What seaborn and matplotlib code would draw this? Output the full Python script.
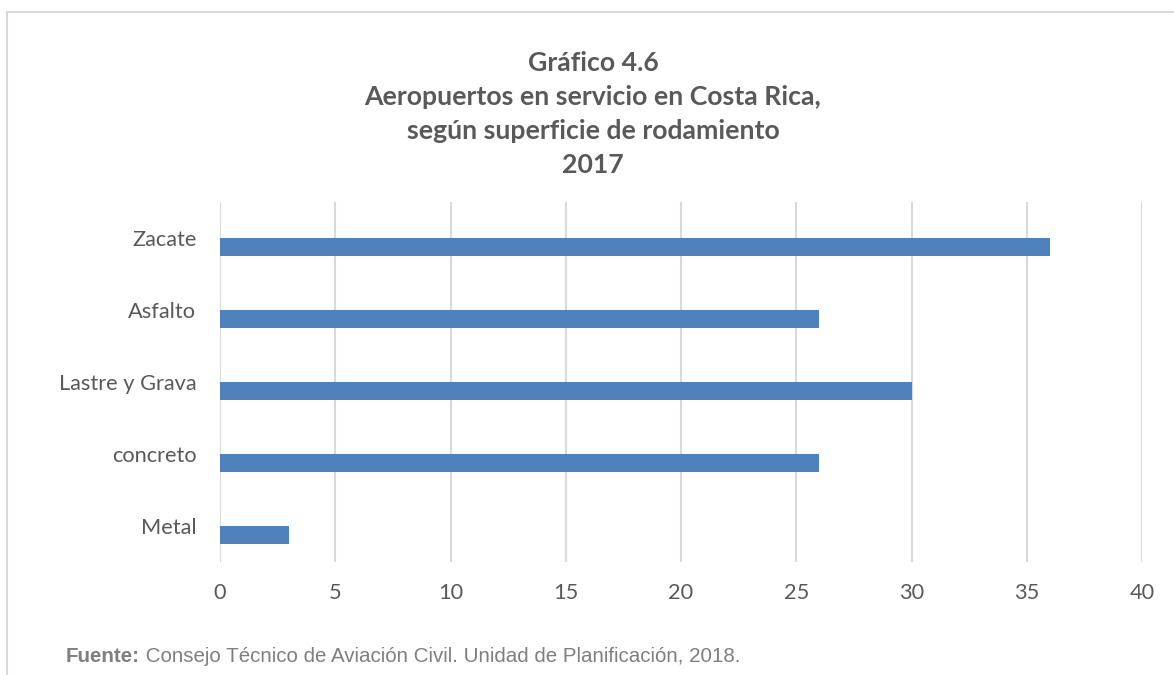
import matplotlib
matplotlib.use("Agg")
import matplotlib.pyplot as plt
import seaborn as sns
import pandas as pd
from matplotlib.lines import Line2D

categories = ["Zacate", "Asfalto", "Lastre y Grava", "concreto", "Metal"]
values = [36, 26, 30, 26, 3]
x_ticks = [0, 5, 10, 15, 20, 25, 30, 35, 40]

title_lines = ["Gráfico 4.6", "Aeropuertos en servicio en Costa Rica,",
               "según superficie de rodamiento", "2017"]
source_bold = "Fuente:"
source_text = " Consejo Técnico de Aviación Civil. Unidad de Planificación, 2018."

sns.set_theme(style="white")
plt.rcParams["font.family"] = ["Lato", "DejaVu Sans"]

# Excel clustered bar: an empty placeholder series occupies the upper slot
df = pd.DataFrame({
    "cat": categories * 2,
    "val": [0] * len(values) + values,
    "serie": ["vacía"] * len(values) + ["Aeropuertos"] * len(values),
})

fig = plt.figure(figsize=(11.74, 6.75), dpi=100)
W, H = 1174, 675
ax = fig.add_axes([220 / W, 1 - 562 / H, (1142 - 220) / W, (562 - 202) / H])

sns.barplot(data=df, y="cat", x="val", hue="serie", orient="h",
            palette={"vacía": "#4F81BD", "Aeropuertos": "#4F81BD"},
            saturation=1, width=0.5, dodge=True, ax=ax, order=categories,
            legend=False, linewidth=0)
for p in ax.patches:
    p.set_linewidth(0)
    if p.get_width() == 0:
        p.set_visible(False)

ax.set_xlim(0, 40)
ax.set_ylim(4.5, -0.5)
ax.set_xticks(x_ticks)
ax.set_xticklabels([str(t) for t in x_ticks])
ax.set_xlabel("")
ax.set_ylabel("")
ax.grid(axis="x", color="#d9d9d9", linewidth=1.5)
ax.grid(axis="y", visible=False)
ax.set_axisbelow(True)
for s in ax.spines.values():
    s.set_visible(False)
ax.tick_params(axis="both", length=0, labelsize=15.7, colors="#595959")
ax.tick_params(axis="x", pad=15)
ax.tick_params(axis="y", pad=17)

ty = [71, 105, 139, 173]
for line, y in zip(title_lines, ty):
    fig.text(593 / W, 1 - y / H, line, ha="center", va="baseline",
             fontsize=19.2, fontweight="bold", color="#595959")

fs = 14.8
t1 = fig.text(66 / W, 1 - 656 / H, source_bold, ha="left", va="center",
              fontsize=fs, fontweight="bold", color="#7f7f7f", family="Liberation Sans")
fig.canvas.draw()
bb = t1.get_window_extent(renderer=fig.canvas.get_renderer())
fig.text(bb.x1 / W, 1 - 656 / H, source_text, ha="left", va="center",
         fontsize=fs, color="#7f7f7f", family="Liberation Sans")

fig.add_artist(Line2D([7 / W, 1.0], [1 - 12 / H, 1 - 12 / H], transform=fig.transFigure,
                      color="#d9d9d9", linewidth=1.5))
fig.add_artist(Line2D([7 / W, 7 / W], [1 - 12 / H, 0.0], transform=fig.transFigure,
                      color="#d9d9d9", linewidth=1.5))

fig.savefig("out.png", dpi=100)
